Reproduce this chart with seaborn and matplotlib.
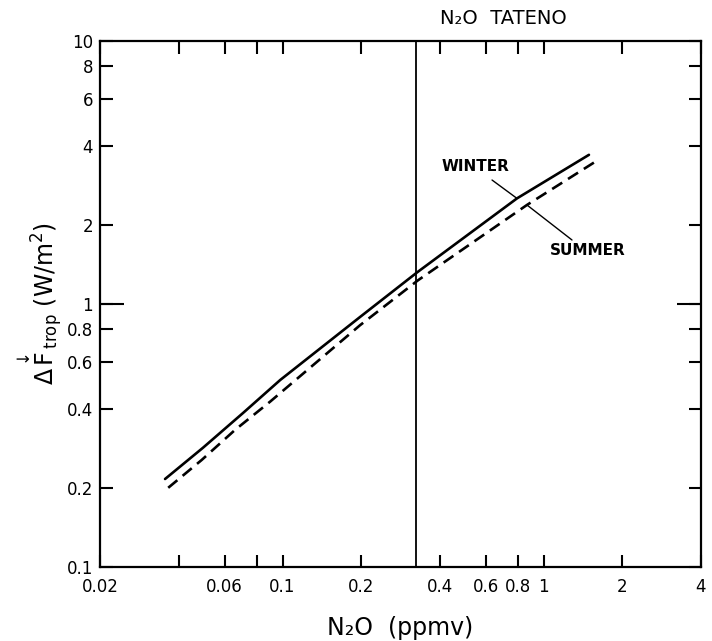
import matplotlib
matplotlib.use("Agg")
import matplotlib.pyplot as plt
import seaborn as sns
import pandas as pd
from matplotlib.ticker import FixedLocator, FixedFormatter, NullLocator, NullFormatter

# ---- data ----
winter_x = [0.0355, 0.0496, 0.0706, 0.098, 0.198, 0.328, 0.79, 1.49]
winter_y = [0.216, 0.284, 0.385, 0.514, 0.892, 1.32, 2.52, 3.69]
summer_x = [0.0365, 0.049, 0.0658, 0.0896, 0.198, 0.33, 0.863, 1.58]
summer_y = [0.200, 0.255, 0.332, 0.425, 0.830, 1.23, 2.38, 3.48]
tateno_n2o = 0.324

x_ticks = [0.02, 0.04, 0.06, 0.08, 0.1, 0.2, 0.4, 0.6, 0.8, 1, 2, 4]
x_tick_labels = ["0.02", "", "0.06", "", "0.1", "0.2", "0.4", "0.6", "0.8", "1", "2", "4"]
y_ticks = [0.1, 0.2, 0.4, 0.6, 0.8, 1, 2, 4, 6, 8, 10]
y_tick_labels = ["0.1", "0.2", "0.4", "0.6", "0.8", "1", "2", "4", "6", "8", "10"]
y_long_ticks = [1]

sns.set_style("ticks")
plt.rcParams["font.family"] = ["DejaVu Sans"]
plt.rcParams["text.color"] = "black"
plt.rcParams["axes.labelcolor"] = "black"
plt.rcParams["xtick.color"] = "black"
plt.rcParams["ytick.color"] = "black"

fig = plt.figure(figsize=(7.12, 6.41), dpi=100)
ax = fig.add_axes([0.1404, 0.1155, 0.8441, 0.8206])

winter = pd.DataFrame({"x": winter_x, "y": winter_y})
summer = pd.DataFrame({"x": summer_x, "y": summer_y})

sns.lineplot(data=winter, x="x", y="y", ax=ax, color="black", linewidth=1.9)
sns.lineplot(data=summer, x="x", y="y", ax=ax, color="black", linewidth=1.9,
             linestyle=(0, (4.5, 2.6)))

ax.axvline(tateno_n2o, color="black", linewidth=1.3)

ax.set_xscale("log")
ax.set_yscale("log")
ax.set_xlim(0.02, 4)
ax.set_ylim(0.1, 10)

ax.xaxis.set_major_locator(FixedLocator(x_ticks))
ax.xaxis.set_major_formatter(FixedFormatter(x_tick_labels))
ax.xaxis.set_minor_locator(NullLocator())
ax.yaxis.set_major_locator(FixedLocator(y_ticks))
ax.yaxis.set_major_formatter(FixedFormatter(y_tick_labels))
ax.yaxis.set_minor_locator(FixedLocator(y_long_ticks))
ax.yaxis.set_minor_formatter(NullFormatter())
ax.yaxis.remove_overlapping_locs = False

ax.tick_params(axis="both", which="major", direction="in", length=9, width=1.5,
               top=True, right=True, labelsize=12, color="black", labelcolor="black")
ax.tick_params(axis="y", which="minor", direction="in", length=17, width=1.5,
               left=True, right=True, color="black")
ax.tick_params(axis="x", pad=8)
ax.tick_params(axis="y", which="major", pad=5)

for s in ax.spines.values():
    s.set_linewidth(1.6)
    s.set_color("black")

ax.set_xlabel("N\u2082O  (ppmv)", fontsize=17, labelpad=14, color="black")
ax.set_ylabel(r"$\Delta\overset{\downarrow}{\mathrm{F}}_{\mathrm{trop}}$ (W/m$^2$)",
              fontsize=17, labelpad=2, color="black")

# annotations
ax.text(0.547, 3.32, "WINTER", fontsize=11, fontweight="bold", ha="center", va="center", color="black")
ax.plot([0.634, 0.79], [2.96, 2.52], color="black", linewidth=1.0)
ax.text(1.48, 1.60, "SUMMER", fontsize=11, fontweight="bold", ha="center", va="center", color="black")
ax.plot([0.863, 1.283], [2.378, 1.751], color="black", linewidth=1.0)

fig.text(503 / 712, 1 - 19 / 641, "N\u2082O  TATENO", fontsize=14, ha="center", va="center", color="black")

fig.savefig("out.png", dpi=100)
